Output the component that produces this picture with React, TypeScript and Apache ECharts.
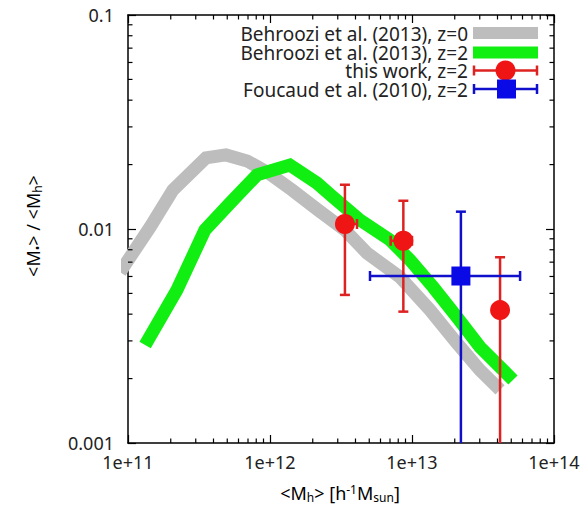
import { useEffect, useRef } from "react";
import * as echarts from "echarts";

// Behroozi et al. (2013), z=0
const grayX = [8.8e10, 1.43e11, 2.07e11, 3.54e11, 4.9e11, 6.9e11, 9.7e11, 1.43e12, 2.18e12, 3.37e12, 4.82e12, 8.2e12, 1.34e13, 2.07e13, 3.01e13, 4.17e13];
const grayY = [0.00629, 0.0102, 0.0152, 0.0215, 0.0222, 0.0208, 0.0183, 0.0152, 0.01227, 0.00989, 0.00772, 0.00597, 0.00418, 0.00293, 0.00219, 0.00177];
// Behroozi et al. (2013), z=2
const greenX = [1.32e11, 2.21e11, 3.48e11, 5.22e11, 8.1e11, 1.38e12, 2.14e12, 2.78e12, 4.31e12, 7.0e12, 9.7e12, 1.41e13, 2.07e13, 3.01e13, 5.14e13];
const greenY = [0.00287, 0.00519, 0.00989, 0.0132, 0.0179, 0.0199, 0.0164, 0.0141, 0.011, 0.00889, 0.00716, 0.00535, 0.00388, 0.00281, 0.00197];
// this work, z=2
const thisX = [3.37e12, 8.69e12, 4.17e13];
const thisY = [0.01055, 0.00881, 0.00418];
const thisXLo = [3.01e12, 7.08e12, 4.17e13];
const thisXHi = [4.1e12, 1.0e13, 4.17e13];
const thisYLo = [0.00492, 0.00411, 0.0004];
const thisYHi = [0.0161, 0.01355, 0.00738];
// Foucaud et al. (2010), z=2
const fouX = [2.21e13];
const fouY = [0.00603];
const fouXLo = [5.06e12];
const fouXHi = [5.77e13];
const fouYLo = [0.0003];
const fouYHi = [0.01205];

// axis ticks
const xMajor = [1e11, 1e12, 1e13, 1e14];
const xLabels = ["1e+11", "1e+12", "1e+13", "1e+14"];
const yMajor = [0.001, 0.01, 0.1];
const yLabels = ["0.001", "0.01", "0.1"];
const minorMult = [2, 3, 4, 5, 6, 7, 8, 9];
const xDecades = [1e11, 1e12, 1e13];
const yDecades = [0.001, 0.01];

const legendLabels = [
  "Behroozi et al. (2013), z=0",
  "Behroozi et al. (2013), z=2",
  "this work, z=2",
  "Foucaud et al. (2010), z=2",
];

const FONT = "'Noto Sans', 'DejaVu Sans', sans-serif";
const GRAY = "#bdbdbd";
const GREEN = "#11ee11";
const RED = "#f01515";
const RED_LINE = "#dd2222";
const BLUE = "#0a0ae6";
const BLUE_LINE = "#1010cc";

function labelFor(v: number, majors: number[], labels: string[]) {
  let best = 0;
  let bd = Infinity;
  majors.forEach((m, i) => {
    const d = Math.abs(Math.log10(v) - Math.log10(m));
    if (d < bd) {
      bd = d;
      best = i;
    }
  });
  return labels[best];
}

function errRender(color: string) {
  return (params: any, api: any) => {
    const x = api.value(0);
    const y = api.value(1);
    const xl = api.coord([api.value(2), y]);
    const xh = api.coord([api.value(3), y]);
    const yl = api.coord([x, api.value(4)]);
    const yh = api.coord([x, api.value(5)]);
    const cap = 5;
    const style = { stroke: color, lineWidth: 2.5, fill: null };
    const children: any[] = [
      { type: "line", shape: { x1: yl[0], y1: yl[1], x2: yh[0], y2: yh[1] }, style },
      { type: "line", shape: { x1: yh[0] - cap, y1: yh[1], x2: yh[0] + cap, y2: yh[1] }, style },
      { type: "line", shape: { x1: yl[0] - cap, y1: yl[1], x2: yl[0] + cap, y2: yl[1] }, style },
    ];
    if (Math.abs(xh[0] - xl[0]) > 0.5) {
      children.push(
        { type: "line", shape: { x1: xl[0], y1: xl[1], x2: xh[0], y2: xh[1] }, style },
        { type: "line", shape: { x1: xl[0], y1: xl[1] - cap, x2: xl[0], y2: xl[1] + cap }, style },
        { type: "line", shape: { x1: xh[0], y1: xh[1] - cap, x2: xh[0], y2: xh[1] + cap }, style }
      );
    }
    return { type: "group", children };
  };
}

export default function App() {
  const ref = useRef<HTMLDivElement>(null);
  useEffect(() => {
    if (!ref.current) return;
    const chart = echarts.init(ref.current, null, { renderer: "svg" });

    const minorData: any[] = [];
    xDecades.forEach((d) => minorMult.forEach((m) => minorData.push([d * m, 0.01, 0])));
    yDecades.forEach((d) => minorMult.forEach((m) => minorData.push([1e12, d * m, 1])));

    const axisLineStyle = { color: "#000", width: 1.5 };
    const baseX = {
      type: "log",
      logBase: 10,
      min: 1e11,
      max: 1e14,
      splitLine: { show: false },
      axisLine: { show: true, onZero: false, lineStyle: axisLineStyle },
      axisTick: { show: true, inside: true, length: 8, lineStyle: { color: "#000", width: 1.2 } },
    };
    const baseY = {
      type: "log",
      logBase: 10,
      min: 0.001,
      max: 0.1,
      splitLine: { show: false },
      axisLine: { show: true, onZero: false, lineStyle: axisLineStyle },
      axisTick: { show: true, inside: true, length: 8, lineStyle: { color: "#000", width: 1.2 } },
    };

    const textStyle = { fontFamily: FONT, fontSize: 18, color: "#222", lineHeight: 18 };
    const subStyle = { fontFamily: FONT, fontSize: 12, color: "#222", lineHeight: 12, padding: [8, 0, 0, 0] };
    const supStyle = { fontFamily: FONT, fontSize: 12, color: "#222", lineHeight: 12, padding: [0, 0, 8, 0] };

    const legendX = 468;
    const swL = 473;
    const swR = 538;
    const rows = [33, 52.5, 70.5, 89];

    const graphic: any[] = [
      {
        type: "text",
        x: 340,
        y: 493,
        style: {
          text: "{n|<M}{s|h}{n|> [h}{p|-1}{n|M}{s|sun}{n|]}",
          align: "center",
          verticalAlign: "middle",
          rich: { n: textStyle, s: subStyle, p: supStyle },
        },
      },
      {
        type: "text",
        x: 33,
        y: 226,
        rotation: Math.PI / 2,
        style: {
          text: "{n|<M}{s|•}{n|> / <M}{s|h}{n|>}",
          align: "center",
          verticalAlign: "middle",
          rich: { n: textStyle, s: subStyle },
        },
      },
      {
        type: "text",
        x: legendX,
        y: 24.6,
        style: {
          text: legendLabels.join("\n"),
          align: "right",
          verticalAlign: "top",
          fontFamily: FONT,
          fontSize: 19,
          lineHeight: 18.7,
          fill: "#222",
        },
      },
    ];
    graphic.push(
      { type: "rect", shape: { x: swL, y: rows[0] - 6, width: swR - swL, height: 12 }, style: { fill: GRAY } },
      { type: "rect", shape: { x: swL, y: rows[1] - 6, width: swR - swL, height: 12 }, style: { fill: GREEN } },
      { type: "line", shape: { x1: swL, y1: rows[2], x2: swR, y2: rows[2] }, style: { stroke: RED_LINE, lineWidth: 2.5 } },
      { type: "line", shape: { x1: swL + 1, y1: rows[2] - 5, x2: swL + 1, y2: rows[2] + 5 }, style: { stroke: RED_LINE, lineWidth: 2.5 } },
      { type: "line", shape: { x1: swR - 1, y1: rows[2] - 5, x2: swR - 1, y2: rows[2] + 5 }, style: { stroke: RED_LINE, lineWidth: 2.5 } },
      { type: "circle", shape: { cx: 505.5, cy: rows[2], r: 10 }, style: { fill: RED } },
      { type: "line", shape: { x1: swL, y1: rows[3], x2: swR, y2: rows[3] }, style: { stroke: BLUE_LINE, lineWidth: 2.5 } },
      { type: "line", shape: { x1: swL + 1, y1: rows[3] - 5, x2: swL + 1, y2: rows[3] + 5 }, style: { stroke: BLUE_LINE, lineWidth: 2.5 } },
      { type: "line", shape: { x1: swR - 1, y1: rows[3] - 5, x2: swR - 1, y2: rows[3] + 5 }, style: { stroke: BLUE_LINE, lineWidth: 2.5 } },
      { type: "rect", shape: { x: 497, y: rows[3] - 9.5, width: 19, height: 19 }, style: { fill: BLUE } }
    );

    chart.setOption({
      animation: false,
      backgroundColor: "#fff",
      grid: { left: 128, top: 15, width: 426, height: 428, containLabel: false },
      xAxis: [
        {
          ...baseX,
          position: "bottom",
          axisLabel: {
            show: true,
            margin: 10,
            fontFamily: FONT,
            fontSize: 18,
            color: "#222",
            formatter: (v: number) => labelFor(v, xMajor, xLabels),
          },
        },
        { ...baseX, position: "top", axisLabel: { show: false } },
      ],
      yAxis: [
        {
          ...baseY,
          position: "left",
          axisLabel: {
            show: true,
            margin: 14,
            fontFamily: FONT,
            fontSize: 18,
            color: "#222",
            formatter: (v: number) => labelFor(v, yMajor, yLabels),
          },
        },
        { ...baseY, position: "right", axisLabel: { show: false } },
      ],
      series: [
        {
          type: "custom",
          name: "minor ticks",
          xAxisIndex: 0,
          yAxisIndex: 0,
          silent: true,
          z: 5,
          encode: { x: 0, y: 1 },
          data: minorData,
          renderItem: (params: any, api: any) => {
            const kind = api.value(2);
            const L = 4.5;
            const style = { stroke: "#000", lineWidth: 1.2 };
            if (kind === 0) {
              const b = api.coord([api.value(0), 0.001]);
              const t = api.coord([api.value(0), 0.1]);
              return {
                type: "group",
                children: [
                  { type: "line", shape: { x1: b[0], y1: b[1], x2: b[0], y2: b[1] - L }, style },
                  { type: "line", shape: { x1: t[0], y1: t[1], x2: t[0], y2: t[1] + L }, style },
                ],
              };
            }
            const l = api.coord([1e11, api.value(1)]);
            const r = api.coord([1e14, api.value(1)]);
            return {
              type: "group",
              children: [
                { type: "line", shape: { x1: l[0], y1: l[1], x2: l[0] + L, y2: l[1] }, style },
                { type: "line", shape: { x1: r[0], y1: r[1], x2: r[0] - L, y2: r[1] }, style },
              ],
            };
          },
        },
        {
          type: "line",
          name: legendLabels[0],
          data: grayX.map((x, i) => [x, grayY[i]]),
          showSymbol: false,
          symbol: "none",
          clip: false,
          z: 2,
          lineStyle: { color: GRAY, width: 13, cap: "butt", join: "miter" },
        },
        {
          type: "line",
          name: legendLabels[1],
          data: greenX.map((x, i) => [x, greenY[i]]),
          showSymbol: false,
          symbol: "none",
          clip: false,
          z: 3,
          lineStyle: { color: GREEN, width: 13, cap: "butt", join: "miter" },
        },
        {
          type: "custom",
          name: "this work errors",
          clip: true,
          z: 4,
          encode: { x: 0, y: 1 },
          data: thisX.map((x, i) => [x, thisY[i], thisXLo[i], thisXHi[i], thisYLo[i], thisYHi[i]]),
          renderItem: errRender(RED_LINE),
        },
        {
          type: "custom",
          name: "Foucaud errors",
          clip: true,
          z: 4,
          encode: { x: 0, y: 1 },
          data: fouX.map((x, i) => [x, fouY[i], fouXLo[i], fouXHi[i], fouYLo[i], fouYHi[i]]),
          renderItem: errRender(BLUE_LINE),
        },
        {
          type: "scatter",
          name: legendLabels[2],
          z: 6,
          symbol: "circle",
          symbolSize: 20,
          itemStyle: { color: RED, opacity: 1 },
          data: thisX.map((x, i) => [x, thisY[i]]),
        },
        {
          type: "scatter",
          name: legendLabels[3],
          z: 6,
          symbol: "rect",
          symbolSize: 19,
          itemStyle: { color: BLUE, opacity: 1 },
          data: fouX.map((x, i) => [x, fouY[i]]),
        },
      ],
      graphic,
    });
    return () => chart.dispose();
  }, []);
  return (
    <div
      ref={ref}
      style={{ position: "fixed", left: 0, top: 0, width: 585, height: 506, background: "#fff" }}
    />
  );
}
